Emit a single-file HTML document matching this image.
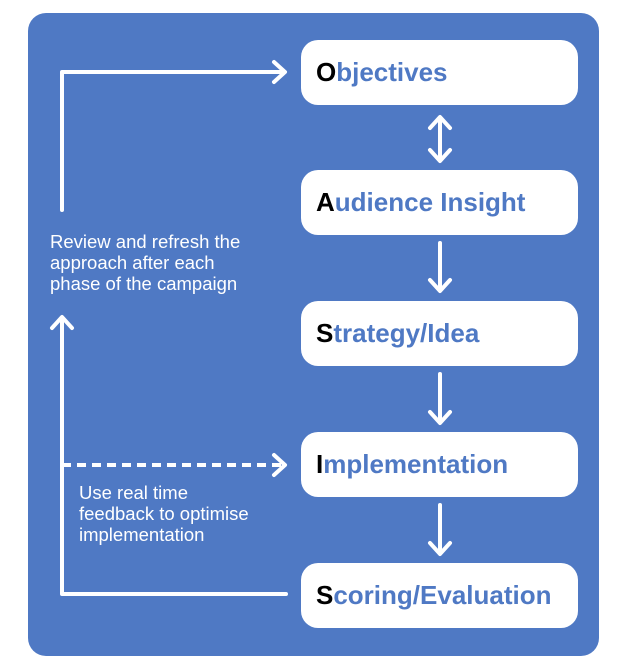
<!DOCTYPE html>
<html><head><style>
body{margin:0;width:632px;height:664px;background:#fff;position:relative;font-family:"Liberation Sans",sans-serif;overflow:hidden}
.panel{position:absolute;left:28px;top:13px;width:571px;height:643px;background:#4f79c4;border-radius:18px}
.box{position:absolute;left:301px;width:277px;height:65px;background:#fff;border-radius:17px;box-sizing:border-box;padding-left:15px;line-height:65px;font-weight:bold;font-size:26px;color:#4f79c4;white-space:nowrap}
.box b{color:#000}
.t{position:absolute;color:#fff;font-size:18.5px;line-height:21px;white-space:nowrap}
svg{position:absolute;left:0;top:0}
</style></head><body>
<div class="panel"></div>
<div class="box" style="top:40px"><b>O</b>bjectives</div>
<div class="box" style="top:170px"><b>A</b>udience Insight</div>
<div class="box" style="top:301px"><b>S</b>trategy/Idea</div>
<div class="box" style="top:432px"><b>I</b>mplementation</div>
<div class="box" style="top:563px"><b>S</b>coring/Evaluation</div>
<div class="t" style="left:50px;top:231px">Review and refresh the<br>approach after each<br>phase of the campaign</div>
<div class="t" style="left:79px;top:482px">Use real time<br>feedback to optimise<br>implementation</div>
<svg width="632" height="664" fill="none" stroke="#fff" stroke-width="4" stroke-linecap="round" stroke-linejoin="round">
<path d="M62 210 V72 H284"/><path d="M274 62 L285 72 L274 82"/>
<path d="M62 318 V594 H286"/><path d="M52 328 L62 317 L72 328"/>
<path d="M62 465 H284" stroke-dasharray="9 6" stroke-linecap="butt"/><path d="M274 455 L285 465 L274 475"/>
<path d="M440 118 V160"/><path d="M430 128 L440 117 L450 128"/><path d="M430 150 L440 161 L450 150"/>
<path d="M440 243 V290"/><path d="M430 280 L440 291 L450 280"/>
<path d="M440 374 V422"/><path d="M430 412 L440 423 L450 412"/>
<path d="M440 505 V553"/><path d="M430 543 L440 554 L450 543"/>
</svg>
</body></html>
